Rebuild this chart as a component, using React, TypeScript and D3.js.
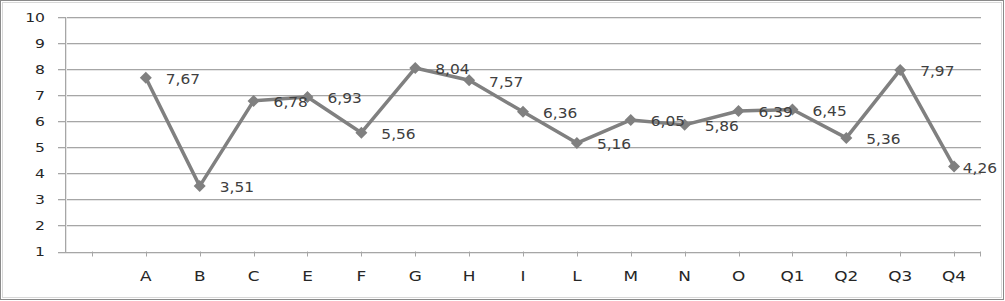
import React from "react";
import * as d3 from "d3";

const categories: string[] = ["", "A", "B", "C", "E", "F", "G", "H", "I", "L", "M", "N", "O", "Q1", "Q2", "Q3", "Q4"];
const values: (number | null)[] = [null, 7.67, 3.51, 6.78, 6.93, 5.56, 8.04, 7.57, 6.36, 5.16, 6.05, 5.86, 6.39, 6.45, 5.36, 7.97, 4.26];
const yTicks: number[] = [1, 2, 3, 4, 5, 6, 7, 8, 9, 10];

const W = 1005;
const H = 301;
const left = 65;
const right = 981;
const top = 17;
const bottom = 251.5;

const FONT = "'DejaVu Sans', Verdana, sans-serif";

function fmt(v: number) {
  return v.toFixed(2).replace(".", ",");
}

export default function App() {
  const x = d3.scalePoint<string>().domain(categories).range([left, right]).padding(0.5);
  const y = d3.scaleLinear().domain([1, 10]).range([bottom, top]);

  const pts = categories.map((c, i) => ({ c, v: values[i], px: x(c) as number }));
  const line = d3
    .line<{ c: string; v: number | null; px: number }>()
    .defined((d) => d.v !== null)
    .x((d) => d.px)
    .y((d) => y(d.v as number));

  const diamond = "M0,-6L6,0L0,6L-6,0Z";

  const labelScale = 1.1;
  const labelFont = 14;
  const estWidth = (s: string) => {
    let w = 0;
    for (const ch of s) w += ch === "," ? 0.318 : 0.636;
    return w * labelFont * labelScale;
  };

  return (
    <div style={{ position: "fixed", left: 0, top: 0, width: W, height: H }}>
      <svg width={W} height={H} style={{ display: "block", background: "#fff" }}>
        <rect x={0.5} y={0.5} width={W - 2} height={H - 2} fill="#fff" stroke="#8a8a8a" strokeWidth={1} />
        <rect x={2.5} y={2.5} width={W - 6} height={H - 6} fill="none" stroke="#d8d8d8" strokeWidth={1} />
        {/* gridlines */}
        {yTicks.map((t) => (
          <g key={t}>
            <line x1={58} x2={right} y1={Math.round(y(t)) + 0.5} y2={Math.round(y(t)) + 0.5} stroke="#a6a6a6" strokeWidth={1} />
            <line x1={58} x2={right} y1={Math.round(y(t)) + 1.5} y2={Math.round(y(t)) + 1.5} stroke="#e6e6e6" strokeWidth={1} />
          </g>
        ))}
        {/* y axis */}
        <line x1={left + 0.5} x2={left + 0.5} y1={top} y2={Math.round(bottom) + 1} stroke="#a6a6a6" />
        <line x1={left + 1.5} x2={left + 1.5} y1={top} y2={Math.round(bottom)} stroke="#e6e6e6" />
        {/* x axis ticks */}
        {pts.map((p) => (
          <line key={"t" + p.c} x1={Math.round(p.px) + 0.5} x2={Math.round(p.px) + 0.5} y1={bottom} y2={bottom + 5} stroke="#a6a6a6" />
        ))}
        <line x1={right - 0.5} x2={right - 0.5} y1={bottom} y2={bottom + 5} stroke="#a6a6a6" />
        {/* y tick labels */}
        {yTicks.map((t) => (
          <text
            key={"yl" + t}
            transform={`translate(45,${y(t)}) scale(1.2,1)`}
            textAnchor="end"
            dominantBaseline="central"
            fontFamily={FONT}
            fontSize={13}
            fill="#262626"
          >
            {t}
          </text>
        ))}
        {/* category labels */}
        {pts.map((p) => (
          <text
            key={"xl" + p.c}
            transform={`translate(${p.px},281) scale(1.25,1)`}
            textAnchor="middle"
            fontFamily={FONT}
            fontSize={13.5}
            fill="#262626"
          >
            {p.c}
          </text>
        ))}
        {/* series */}
        <path d={line(pts) || ""} fill="none" stroke="#808080" strokeWidth={3.5} strokeLinejoin="round" />
        {pts
          .filter((p) => p.v !== null)
          .map((p) => (
            <path key={"m" + p.c} d={diamond} transform={`translate(${p.px},${y(p.v as number)})`} fill="#808080" />
          ))}
        {/* data labels */}
        {pts
          .filter((p) => p.v !== null)
          .map((p) => {
            const s = fmt(p.v as number);
            const lx = Math.min(p.px + 20, 997 - estWidth(s));
            return (
              <text
                key={"dl" + p.c}
                transform={`translate(${lx},${y(p.v as number) + 1}) scale(${labelScale},1)`}
                dominantBaseline="central"
                fontFamily={FONT}
                fontSize={labelFont}
                fill="#404040"
              >
                {s}
              </text>
            );
          })}
      </svg>
    </div>
  );
}
